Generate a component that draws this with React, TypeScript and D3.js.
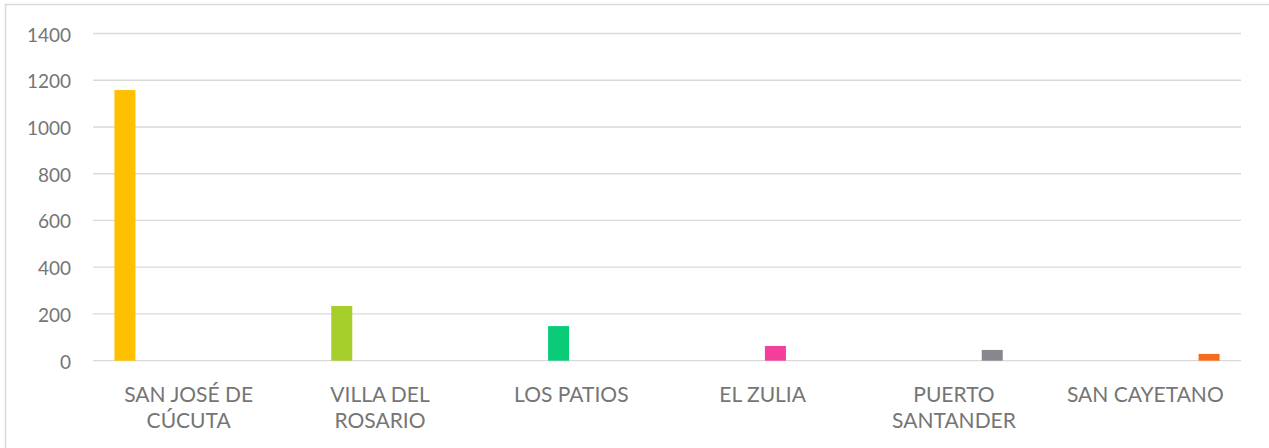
import React from "react";
import * as d3 from "d3";

const categories = ["SAN JOSÉ DE CÚCUTA", "VILLA DEL ROSARIO", "LOS PATIOS", "EL ZULIA", "PUERTO SANTANDER", "SAN CAYETANO"];
const categoryLines = [["SAN JOSÉ DE", "CÚCUTA"], ["VILLA DEL", "ROSARIO"], ["LOS PATIOS"], ["EL ZULIA"], ["PUERTO", "SANTANDER"], ["SAN CAYETANO"]];
const values = [1158, 234, 148, 63, 46, 29];
const colors = ["#FFC000", "#A5CE2A", "#0ACC78", "#F23F9A", "#88878E", "#F96B1C"];
const yTicks = [0, 200, 400, 600, 800, 1000, 1200, 1400];

const W = 1269;
const H = 448;
const left = 93;
const right = 1241;
const top = 33.5;
const bottom = 360.7;

export default function App() {
  const x = d3.scaleBand<string>().domain(categories).range([left, right]).paddingInner(0).paddingOuter(0);
  const inner = d3
    .scaleBand<number>()
    .domain(d3.range(categories.length))
    .range([0, x.bandwidth()])
    .paddingInner(0.176)
    .paddingOuter(0.84);
  const y = d3.scaleLinear().domain([0, 1400]).range([bottom, top]);
  const font = "Lato, 'Open Sans', sans-serif";
  const textColor = "#757575";

  return (
    <svg width={W} height={H} style={{ position: "absolute", left: 0, top: 0, background: "#fff" }}>
      <rect x={5.5} y={4.5} width={W + 10} height={H + 10} fill="#fff" stroke="#d9d9d9" strokeWidth={1.5} />
      {yTicks.map((t) => (
        <g key={t}>
          <line x1={left} x2={right} y1={y(t)} y2={y(t)} stroke="#d9d9d9" strokeWidth={1.3} />
          <text x={71} y={y(t) + 8} textAnchor="end" fontFamily={font} fontSize={19} fill={textColor}>
            {t}
          </text>
        </g>
      ))}
      {categories.map((c, i) => (
        <rect
          key={c}
          x={(x(c) as number) + (inner(i) as number)}
          y={y(values[i])}
          width={inner.bandwidth()}
          height={y(0) - y(values[i])}
          fill={colors[i]}
        />
      ))}
      {categories.map((c, i) => (
        <text key={c} textAnchor="middle" fontFamily={font} fontSize={21} fill={textColor}>
          {categoryLines[i].map((ln, j) => (
            <tspan key={j} x={(x(c) as number) + x.bandwidth() / 2} y={401.5 + j * 26.7}>
              {ln}
            </tspan>
          ))}
        </text>
      ))}
    </svg>
  );
}
